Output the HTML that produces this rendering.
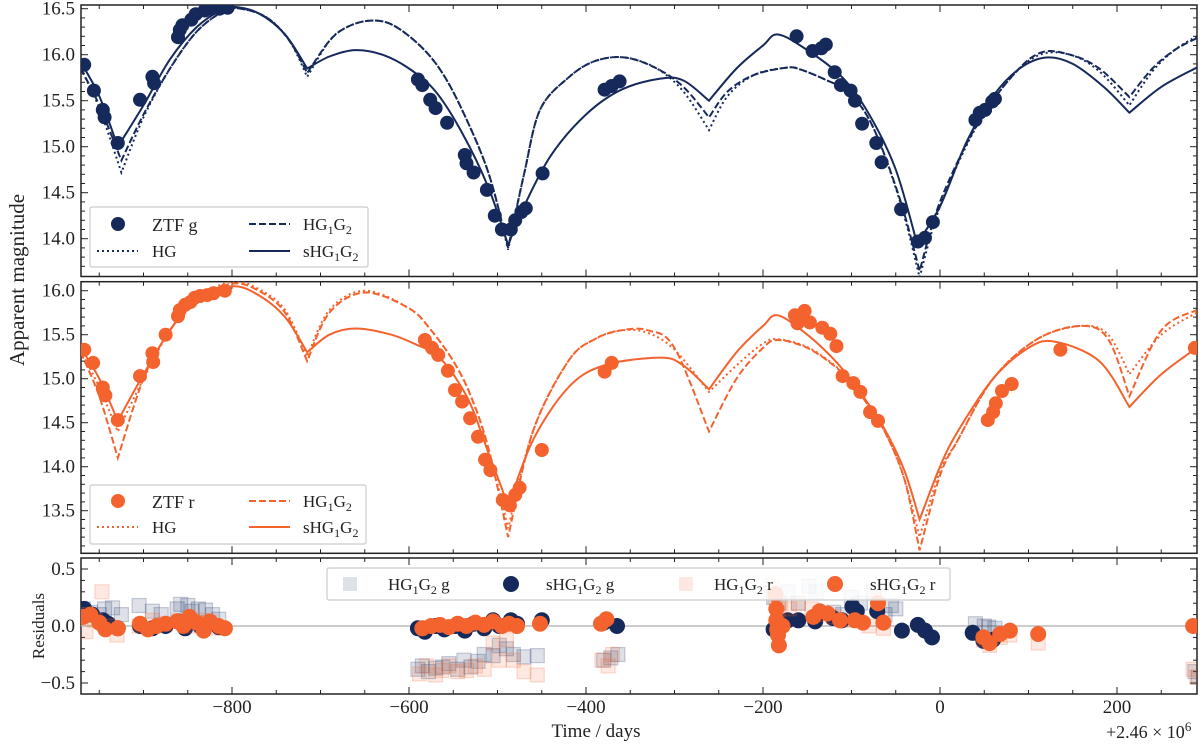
<!DOCTYPE html>
<html><head><meta charset="utf-8"><style>
html,body{margin:0;padding:0;background:#fff;}
svg{display:block;font-family:"Liberation Serif",serif;}
</style></head><body>
<svg id="chart" width="1200" height="745" viewBox="0 0 1200 745" xmlns="http://www.w3.org/2000/svg">
<defs>
<clipPath id="cTop"><rect x="81" y="5" width="1116" height="271.5"/></clipPath>
<clipPath id="cMid"><rect x="81" y="281.7" width="1116" height="271.6"/></clipPath>
<clipPath id="cRes"><rect x="81" y="558" width="1116" height="136"/></clipPath>
</defs>
<g id="layer"></g>
</svg>
<script>
// ---------- data (days relative to 2.46e6, magnitudes) ----------
const cuspDays=[-929,-925,-715,-488,-261,-26,-23,214];
const gSolidT=[-971,-950,-929,-900,-870,-840,-810,-797,-770,-740,-715,-690,-661,-630,-600,-570,-540,-510,-488,-470,-440,-400,-360,-316,-290,-261,-230,-200,-183,-150,-110,-80,-50,-26,0,30,60,90,120,150,185,214,250,290];
const gSolidM=[15.92,15.55,15.0,15.45,15.95,16.3,16.5,16.52,16.45,16.22,15.85,15.98,16.05,16.0,15.85,15.6,15.15,14.55,13.93,14.35,14.9,15.35,15.62,15.74,15.72,15.5,15.85,16.1,16.22,16.05,15.75,15.35,14.75,13.95,14.35,15.05,15.55,15.85,15.97,15.9,15.65,15.37,15.65,15.86];
const gDashT=[-971,-950,-925,-900,-870,-840,-810,-790,-760,-735,-715,-690,-670,-645,-620,-590,-565,-540,-510,-488,-470,-452,-420,-390,-356,-320,-290,-261,-240,-210,-173,-158,-130,-102,-75,-45,-23,0,40,80,113,147,180,214,240,265,290];
const gDashM=[15.85,15.45,14.85,15.35,15.85,16.25,16.47,16.5,16.4,16.15,15.8,16.15,16.3,16.37,16.33,16.12,15.84,15.4,14.71,13.9,14.7,15.4,15.75,15.93,15.97,15.85,15.65,15.32,15.6,15.78,15.86,15.84,15.73,15.58,15.2,14.42,13.65,14.4,15.21,15.75,16.02,16.0,15.85,15.54,15.85,16.05,16.18];
const gDotT=gDashT;
const gDotM=[15.85,15.42,14.72,15.32,15.85,16.25,16.47,16.5,16.4,16.15,15.76,16.15,16.3,16.37,16.33,16.12,15.84,15.4,14.71,13.88,14.7,15.4,15.75,15.93,15.97,15.85,15.6,15.18,15.55,15.78,15.86,15.84,15.73,15.58,15.2,14.4,13.58,14.35,15.2,15.75,16.0,16.0,15.82,15.45,15.82,16.05,16.2];
const gObsT=[-967,-956,-946,-944,-929,-904,-890,-888,-861,-859,-856,-846,-841,-831,-823,-814,-805,-590,-585,-576,-570,-557,-537,-535,-527,-512,-503,-495,-485,-480,-473,-468,-449,-379,-371,-362,-162,-144,-134,-129,-119,-112,-101,-96,-88,-72,-66,-44,-25,-17,-8,40,45,51,59,62];
const gObsM=[15.89,15.61,15.4,15.32,15.04,15.51,15.76,15.69,16.19,16.27,16.32,16.38,16.44,16.48,16.5,16.5,16.51,15.73,15.67,15.51,15.42,15.26,14.91,14.82,14.72,14.53,14.25,14.1,14.1,14.2,14.29,14.33,14.71,15.62,15.66,15.71,16.2,16.04,16.07,16.11,15.81,15.67,15.61,15.5,15.25,15.04,14.83,14.32,13.97,14.01,14.18,15.29,15.37,15.4,15.49,15.52];

const rSolidT=[-971,-950,-929,-900,-870,-840,-800,-770,-740,-715,-690,-660,-620,-590,-570,-550,-530,-510,-495,-488,-460,-420,-380,-316,-290,-261,-230,-200,-183,-150,-120,-100,-80,-60,-40,-23,0,20,60,100,130,180,214,250,290];
const rSolidM=[15.35,15.0,14.52,15.05,15.55,15.9,16.05,15.95,15.7,15.3,15.5,15.57,15.5,15.38,15.28,15.05,14.7,14.15,13.75,13.55,14.3,14.9,15.15,15.24,15.15,14.88,15.3,15.6,15.72,15.5,15.22,14.98,14.7,14.38,13.95,13.4,14.0,14.4,15.0,15.35,15.42,15.2,14.68,15.05,15.35];
const rDashT=[-971,-950,-929,-900,-870,-840,-800,-770,-740,-715,-690,-650,-600,-575,-550,-530,-510,-488,-460,-420,-390,-360,-330,-300,-261,-230,-200,-183,-150,-120,-100,-80,-60,-40,-23,0,20,60,110,160,190,214,250,290];
const rDashM=[15.3,14.8,14.1,15.0,15.55,15.9,16.08,16.0,15.75,15.2,15.75,15.98,15.8,15.55,15.2,14.8,14.2,13.2,14.4,15.2,15.45,15.55,15.55,15.35,14.4,15.0,15.35,15.44,15.35,15.15,14.95,14.68,14.35,13.85,13.05,13.9,14.3,15.0,15.45,15.6,15.45,14.8,15.55,15.78];
const rDotT=rDashT;
const rDotM=[15.32,14.9,14.4,15.0,15.55,15.92,16.1,16.02,15.78,15.25,15.78,16.0,15.8,15.55,15.2,14.8,14.2,13.3,14.4,15.2,15.45,15.55,15.52,15.33,14.85,15.15,15.4,15.45,15.36,15.16,14.96,14.68,14.35,13.85,13.2,13.95,14.3,15.0,15.45,15.6,15.5,15.05,15.5,15.75];
const rObsT=[-967,-957,-946,-943,-929,-904,-890,-889,-875,-861,-859,-853,-847,-842,-836,-828,-821,-808,-582,-574,-567,-556,-548,-540,-531,-522,-514,-508,-494,-486,-480,-475,-450,-379,-371,-164,-161,-156,-153,-147,-133,-124,-117,-110,-98,-90,-79,-70,54,60,63,70,81,136,288];
const rObsM=[15.33,15.18,14.9,14.81,14.53,15.03,15.29,15.19,15.5,15.71,15.78,15.84,15.87,15.92,15.94,15.95,15.97,16.0,15.44,15.35,15.27,15.09,14.87,14.74,14.55,14.34,14.08,13.96,13.62,13.56,13.68,13.76,14.19,15.08,15.18,15.72,15.63,15.67,15.77,15.64,15.58,15.51,15.37,15.03,14.95,14.85,14.62,14.52,14.53,14.62,14.72,14.86,14.94,15.33,15.35];

const resHGgT=[-968,-960,-950,-944,-935,-925,-905,-890,-880,-862,-858,-850,-845,-838,-830,-822,-815,-590,-585,-578,-570,-562,-555,-545,-538,-530,-522,-515,-505,-498,-490,-482,-470,-455,-380,-372,-364,-188,-182,-172,-160,-148,-140,-120,-110,-100,-90,-75,-62,-55,-50,40,50,55,62,288,292];
const resHGgV=[0.15,0.12,0.1,0.15,0.16,0.1,0.18,0.13,0.1,0.15,0.19,0.18,0.13,0.15,0.14,0.1,0.06,-0.38,-0.35,-0.4,-0.37,-0.36,-0.33,-0.38,-0.3,-0.36,-0.31,-0.25,-0.26,-0.17,-0.2,-0.25,-0.27,-0.26,-0.3,-0.28,-0.25,0.25,0.2,0.3,0.2,0.35,0.3,0.12,0.1,0.25,0.2,0.3,0.1,0.18,0.15,0.02,0.0,-0.01,-0.02,-0.4,-0.45];
const resSgT=[-967,-958,-946,-940,-929,-904,-890,-875,-861,-853,-846,-836,-826,-815,-590,-582,-570,-560,-548,-537,-527,-515,-505,-498,-485,-478,-450,-380,-365,-188,-180,-172,-160,-141,-121,-111,-99,-94,-71,-43,-25,-17,-9,37,49,60];
const resSgV=[0.15,0.1,0.05,0.02,-0.02,0.0,-0.02,0.0,0.04,-0.02,0.05,0.0,0.03,-0.01,-0.02,-0.05,0.0,-0.03,0.0,-0.04,0.02,-0.02,0.05,0.0,0.05,0.02,0.05,0.03,0.0,-0.03,0.0,0.05,0.05,0.04,0.07,0.05,0.17,0.13,0.13,-0.04,0.01,-0.04,-0.1,-0.06,-0.13,-0.12];
const resHGrT=[-968,-965,-955,-947,-940,-930,-905,-890,-875,-860,-850,-845,-835,-826,-815,-588,-580,-570,-563,-555,-545,-535,-525,-515,-505,-498,-490,-482,-470,-455,-382,-375,-370,-190,-186,-183,-180,-170,-160,-145,-135,-120,-100,-80,-70,-64,49,56,68,79,111,286,290];
const resHGrV=[0.1,-0.05,0.05,0.3,0.0,-0.08,0.0,0.05,0.02,0.05,0.03,0.0,0.05,0.03,-0.02,-0.42,-0.35,-0.43,-0.39,-0.35,-0.4,-0.39,-0.35,-0.38,-0.15,-0.3,-0.12,-0.3,-0.4,-0.43,-0.3,-0.35,-0.25,0.35,0.25,0.12,0.2,0.15,0.2,0.15,0.1,0.08,0.05,0.0,0.25,-0.02,-0.12,-0.17,-0.1,-0.08,-0.15,-0.38,-0.45];
const resSrT=[-968,-960,-950,-943,-929,-904,-895,-885,-875,-862,-855,-848,-840,-832,-825,-815,-808,-585,-575,-565,-555,-545,-535,-525,-515,-505,-495,-487,-478,-452,-383,-377,-186,-185,-185,-184,-183,-182,-178,-143,-136,-127,-113,-96,-87,-70,-64,49,56,68,79,111,286];
const resSrV=[0.08,0.1,0.03,-0.03,-0.02,0.02,-0.03,0.0,0.02,0.04,0.0,0.08,0.03,-0.04,0.04,0.0,-0.02,-0.02,0.0,0.01,-0.01,0.02,0.0,0.03,0.01,0.04,0.0,0.02,0.0,0.02,0.02,0.06,0.28,0.15,0.05,-0.03,-0.08,-0.17,0.0,0.08,0.13,0.11,0.05,0.05,0.03,0.2,0.03,-0.1,-0.15,-0.07,-0.04,-0.07,0.0];

const xTicks=[-800,-600,-400,-200,0,200];
const topTicks=[16.5,16.0,15.5,15.0,14.5,14.0];
const midTicks=[16.0,15.5,15.0,14.5,14.0,13.5];
const resTicks=[0.5,0.0,-0.5];

// ---------- scales ----------
const L=81,R=1197;
const X=d=>940+d*0.885;
const Ytop=m=>54.7+(16.0-m)*92;
const Ymid=m=>290.7+(16.0-m)*88;
const Yres=v=>626-v*114;
const NAVY='#15295a',ORANGE='#f4622d';
const NS='http://www.w3.org/2000/svg';
const layer=document.getElementById('layer');
function mk(tag,attrs,parent){const e=document.createElementNS(NS,tag);for(const k in attrs)e.setAttribute(k,attrs[k]);(parent||layer).appendChild(e);return e;}

// smooth path: Catmull-Rom within segments, broken at cusps
function smoothPath(pts){
  let d='M'+pts[0][0].toFixed(1)+','+pts[0][1].toFixed(1);
  for(let i=0;i<pts.length-1;i++){
    const p1=pts[i],p2=pts[i+1];
    const p0=(i>0&&!pts[i][2])?pts[i-1]:p1;
    const p3=(i+2<pts.length&&!pts[i+1][2])?pts[i+2]:p2;
    const c1x=p1[0]+(p2[0]-p0[0])/6,c1y=p1[1]+(p2[1]-p0[1])/6;
    const c2x=p2[0]-(p3[0]-p1[0])/6,c2y=p2[1]-(p3[1]-p1[1])/6;
    d+='C'+c1x.toFixed(1)+','+c1y.toFixed(1)+' '+c2x.toFixed(1)+','+c2y.toFixed(1)+' '+p2[0].toFixed(1)+','+p2[1].toFixed(1);
  }
  return d;
}
function line(ts,ms,ys,color,dash,parent,name){
  const pts=ts.map((t,i)=>[X(t),ys(ms[i]),cuspDays.includes(t)]);
  const p=mk('path',{d:smoothPath(pts),fill:'none',stroke:color,'stroke-width':2,'stroke-dasharray':dash},parent);
  
  
}
function dots(ts,ms,ys,color,r,parent,name){
  const g=mk('g',{},parent);
  
  
  ts.forEach((t,i)=>{mk('circle',{cx:X(t).toFixed(1),cy:ys(ms[i]).toFixed(1),r:r,fill:color},g);});
}
function squares(ts,vs,color,parent,name){
  const g=mk('g',{},parent);
  
  
  ts.forEach((t,i)=>{mk('rect',{x:(X(t)-7).toFixed(1),y:(Yres(vs[i])-7).toFixed(1),width:14,height:14,fill:color,'fill-opacity':0.14,stroke:color,'stroke-opacity':0.22,'stroke-width':1.2},g);});
}
function frame(y0,y1,ticks,ys,fmt,minorStep,name){
  const g=mk('g',{});
  
  
  mk('rect',{x:L,y:y0,width:R-L,height:y1-y0,fill:'none',stroke:'#222','stroke-width':1.5},g);
  for(let d=-950;d<=290;d+=50){const x=X(d);const maj=d%200===0;const len=maj?7:4;
    mk('line',{x1:x,y1:y1,x2:x,y2:y1-len,stroke:'#222','stroke-width':1},g);
    mk('line',{x1:x,y1:y0,x2:x,y2:y0+len,stroke:'#222','stroke-width':1},g);}
  const lo=Math.min(...ticks)-0.5,hi=Math.max(...ticks)+0.5;
  for(let v=lo;v<=hi+1e-6;v+=minorStep){const y=ys(v);if(y<y0+1||y>y1-1)continue;
    const maj=Math.abs(v*2-Math.round(v*2))<1e-6;const len=maj?7:4;
    mk('line',{x1:L,y1:y,x2:L+len,y2:y,stroke:'#222','stroke-width':1},g);
    mk('line',{x1:R,y1:y,x2:R-len,y2:y,stroke:'#222','stroke-width':1},g);}
  ticks.forEach(v=>{const t=mk('text',{x:75,y:ys(v)+6,'text-anchor':'end','font-size':19,fill:'#222'},g);t.textContent=fmt(v);
    
    });
}
const f1=v=>(v<0?'\u2212':'')+Math.abs(v).toFixed(1);

frame(5,276.5,topTicks,Ytop,f1,0.1,'top-panel-g');
frame(281.7,553.3,midTicks,Ymid,f1,0.1,'middle-panel-r');
frame(558,694,resTicks,Yres,f1,0.1,'residual-panel');

const gt=mk('g',{'clip-path':'url(#cTop)'});
line(gDotT,gDotM,Ytop,NAVY,'2,3',gt,'hg-g-line');
line(gDashT,gDashM,Ytop,NAVY,'7,3',gt,'hg1g2-g-line');
line(gSolidT,gSolidM,Ytop,NAVY,'',gt,'shg1g2-g-line');
dots(gObsT,gObsM,Ytop,NAVY,7,gt,'ztf-g-points');
const mt=mk('g',{'clip-path':'url(#cMid)'});
line(rDotT,rDotM,Ymid,ORANGE,'2,3',mt,'hg-r-line');
line(rDashT,rDashM,Ymid,ORANGE,'7,3',mt,'hg1g2-r-line');
line(rSolidT,rSolidM,Ymid,ORANGE,'',mt,'shg1g2-r-line');
dots(rObsT,rObsM,Ymid,ORANGE,7,mt,'ztf-r-points');
const rt=mk('g',{'clip-path':'url(#cRes)'});
mk('line',{x1:L,x2:R,y1:Yres(0),y2:Yres(0),stroke:'#bbb','stroke-width':1.5},rt);
squares(resHGgT,resHGgV,NAVY,rt,'res-hg1g2-g');
dots(resSgT,resSgV,Yres,NAVY,8,rt,'res-shg1g2-g');
squares(resHGrT,resHGrV,ORANGE,rt,'res-hg1g2-r');
dots(resSrT,resSrV,Yres,ORANGE,8,rt,'res-shg1g2-r');

xTicks.forEach(d=>{const t=mk('text',{x:X(d),y:713,'text-anchor':'middle','font-size':19,fill:'#222'});
  t.textContent=(d<0?'\u2212':'')+Math.abs(d);
  
  });
</script>
<svg width="1200" height="745" style="position:absolute;left:0;top:0" xmlns="http://www.w3.org/2000/svg" font-family="Liberation Serif, serif">
<text x="24" y="280" font-size="21" fill="#222" text-anchor="middle" transform="rotate(-90 24 280)">Apparent magnitude</text>
<text x="44" y="626" font-size="17" fill="#222" text-anchor="middle" transform="rotate(-90 44 626)">Residuals</text>
<text x="596" y="737" font-size="19" fill="#222" text-anchor="middle">Time / days</text>
<text x="1106" y="738" font-size="18" fill="#222">+2.46 × 10<tspan dy="-7" font-size="13">6</tspan></text>
<g>
<rect x="90" y="207" width="278" height="60" fill="#fff" fill-opacity="0.85" stroke="#ccc" stroke-width="1.2" rx="2"/>
<circle cx="118" cy="224" r="7" fill="#15295a"/>
<text x="152" y="231" font-size="18" fill="#222">ZTF g</text>
<line x1="249" y1="224" x2="290" y2="224" stroke="#15295a" stroke-width="2" stroke-dasharray="7,3"/>
<text x="303" y="230" font-size="17" fill="#222">HG<tspan font-size="12" dy="4">1</tspan><tspan dy="-4">G</tspan><tspan font-size="12" dy="4">2</tspan></text>
<line x1="97" y1="251" x2="138" y2="251" stroke="#15295a" stroke-width="2" stroke-dasharray="2,3"/>
<text x="152" y="257" font-size="17" fill="#222">HG</text>
<line x1="249" y1="251" x2="290" y2="251" stroke="#15295a" stroke-width="2"/>
<text x="303" y="257" font-size="17" fill="#222">sHG<tspan font-size="12" dy="4">1</tspan><tspan dy="-4">G</tspan><tspan font-size="12" dy="4">2</tspan></text>
</g>
<g>
<rect x="90" y="485" width="276" height="59" fill="#fff" fill-opacity="0.85" stroke="#ccc" stroke-width="1.2" rx="2"/>
<circle cx="118" cy="501" r="7" fill="#f4622d"/>
<text x="152" y="508" font-size="18" fill="#222">ZTF r</text>
<line x1="249" y1="501" x2="290" y2="501" stroke="#f4622d" stroke-width="2" stroke-dasharray="7,3"/>
<text x="303" y="507" font-size="17" fill="#222">HG<tspan font-size="12" dy="4">1</tspan><tspan dy="-4">G</tspan><tspan font-size="12" dy="4">2</tspan></text>
<line x1="97" y1="527" x2="138" y2="527" stroke="#f4622d" stroke-width="2" stroke-dasharray="2,3"/>
<text x="152" y="533" font-size="17" fill="#222">HG</text>
<line x1="249" y1="527" x2="290" y2="527" stroke="#f4622d" stroke-width="2"/>
<text x="303" y="533" font-size="17" fill="#222">sHG<tspan font-size="12" dy="4">1</tspan><tspan dy="-4">G</tspan><tspan font-size="12" dy="4">2</tspan></text>
</g>
<g>
<rect x="327" y="568" width="623" height="32" fill="#fff" fill-opacity="0.85" stroke="#ccc" stroke-width="1.2" rx="2"/>
<rect x="343" y="577" width="14" height="14" fill="#15295a" fill-opacity="0.14"/>
<text x="388" y="590" font-size="17" fill="#222">HG<tspan font-size="12" dy="4">1</tspan><tspan dy="-4">G</tspan><tspan font-size="12" dy="4">2</tspan><tspan dy="-4"> g</tspan></text>
<circle cx="511" cy="584" r="8" fill="#15295a"/>
<text x="546" y="590" font-size="17" fill="#222">sHG<tspan font-size="12" dy="4">1</tspan><tspan dy="-4">G</tspan><tspan font-size="12" dy="4">2</tspan><tspan dy="-4"> g</tspan></text>
<rect x="679" y="577" width="14" height="14" fill="#f4622d" fill-opacity="0.14"/>
<text x="714" y="590" font-size="17" fill="#222">HG<tspan font-size="12" dy="4">1</tspan><tspan dy="-4">G</tspan><tspan font-size="12" dy="4">2</tspan><tspan dy="-4"> r</tspan></text>
<circle cx="835" cy="584" r="8" fill="#f4622d"/>
<text x="870" y="590" font-size="17" fill="#222">sHG<tspan font-size="12" dy="4">1</tspan><tspan dy="-4">G</tspan><tspan font-size="12" dy="4">2</tspan><tspan dy="-4"> r</tspan></text>
</g>
</svg>
</body></html>
